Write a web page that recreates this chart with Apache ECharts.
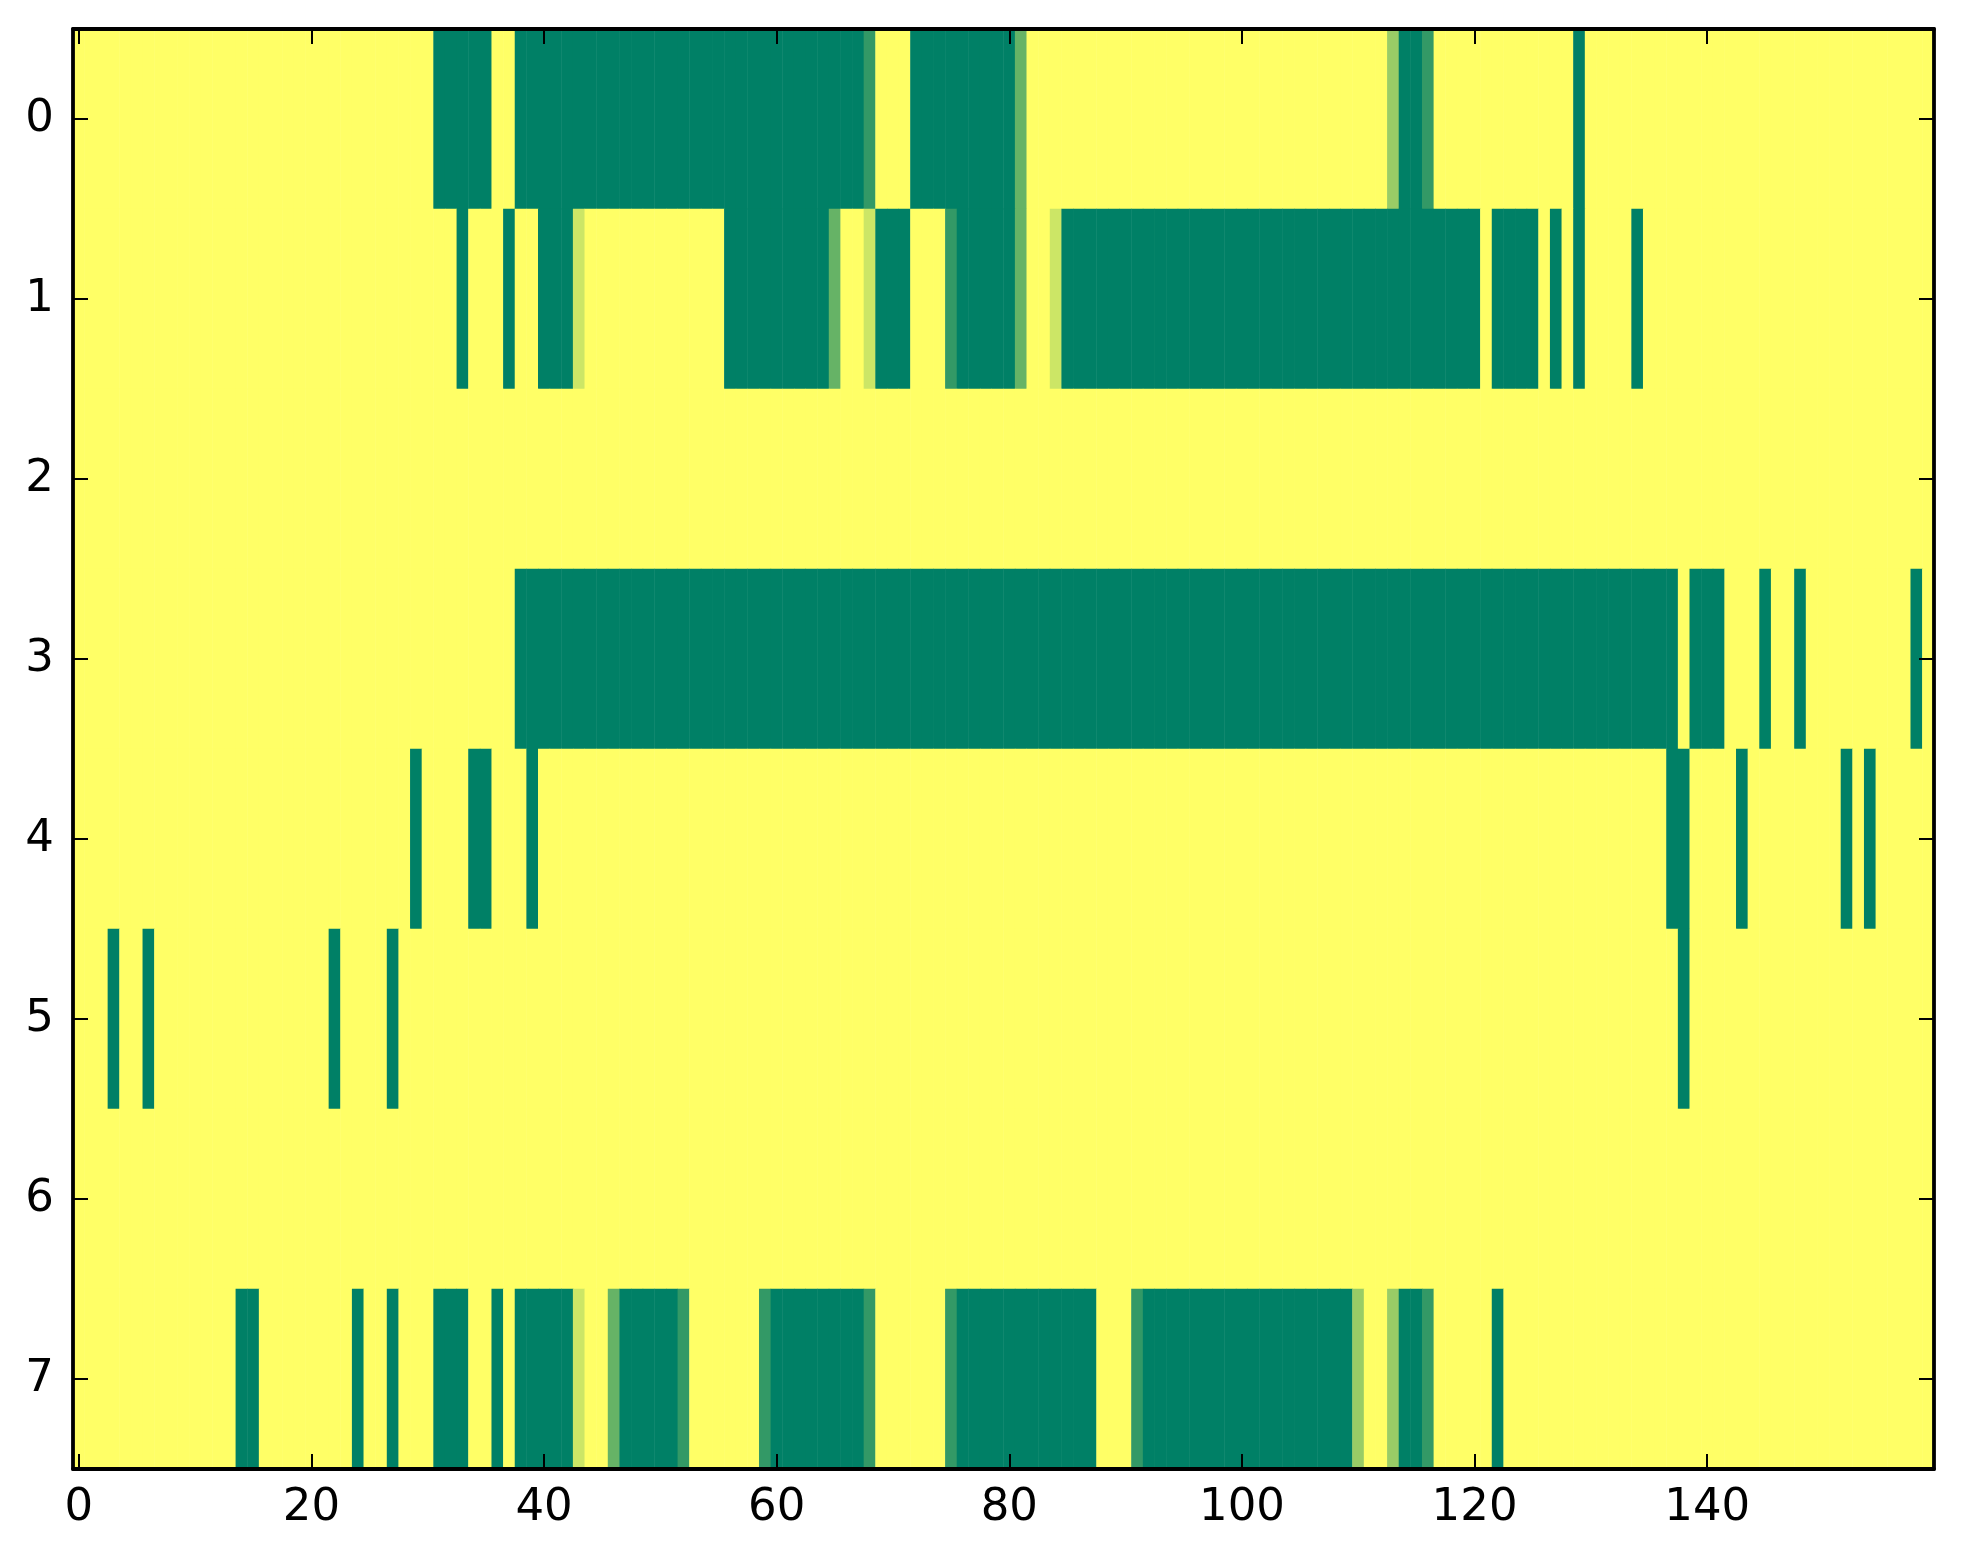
<!DOCTYPE html>
<html>
<head>
<meta charset="utf-8">
<script src="https://cdn.jsdelivr.net/npm/echarts@6/dist/echarts.min.js"></script>
<style>
html,body{margin:0;padding:0;background:#fff;}
#chart{width:1963px;height:1564px;}
</style>
</head>
<body>
<div id="chart"></div>
<script>
// Values: 0 = darkest green, 5 = yellow (summer colormap levels)
var row0 = [
5,5,5,5,5,5,5,5,5,5, 5,5,5,5,5,5,5,5,5,5, 5,5,5,5,5,5,5,5,5,5,
5,0,0,0,0,0,5,5,0,0, 0,0,0,0,0,0,0,0,0,0, 0,0,0,0,0,0,0,0,0,0,
0,0,0,0,0,0,0,0,1,5, 5,5,0,0,0,0,0,0,0,0, 0,2,5,5,5,5,5,5,5,5,
5,5,5,5,5,5,5,5,5,5, 5,5,5,5,5,5,5,5,5,5, 5,5,5,3,0,0,1,5,5,5,
5,5,5,5,5,5,5,5,5,0, 5,5,5,5,5,5,5,5,5,5, 5,5,5,5,5,5,5,5,5,5,
5,5,5,5,5,5,5,5,5,5
];
var row1 = [
5,5,5,5,5,5,5,5,5,5, 5,5,5,5,5,5,5,5,5,5, 5,5,5,5,5,5,5,5,5,5,
5,5,5,0,5,5,5,0,5,5, 0,0,0,4,5,5,5,5,5,5, 5,5,5,5,5,5,0,0,0,0,
0,0,0,0,0,2,5,5,4,0, 0,0,5,5,5,1,0,0,0,0, 0,2,5,5,4,0,0,0,0,0,
0,0,0,0,0,0,0,0,0,0, 0,0,0,0,0,0,0,0,0,0, 0,0,0,0,0,0,0,0,0,0,
0,5,0,0,0,0,5,0,5,0, 5,5,5,5,0,5,5,5,5,5, 5,5,5,5,5,5,5,5,5,5,
5,5,5,5,5,5,5,5,5,5
];
var row2 = [
5,5,5,5,5,5,5,5,5,5, 5,5,5,5,5,5,5,5,5,5, 5,5,5,5,5,5,5,5,5,5,
5,5,5,5,5,5,5,5,5,5, 5,5,5,5,5,5,5,5,5,5, 5,5,5,5,5,5,5,5,5,5,
5,5,5,5,5,5,5,5,5,5, 5,5,5,5,5,5,5,5,5,5, 5,5,5,5,5,5,5,5,5,5,
5,5,5,5,5,5,5,5,5,5, 5,5,5,5,5,5,5,5,5,5, 5,5,5,5,5,5,5,5,5,5,
5,5,5,5,5,5,5,5,5,5, 5,5,5,5,5,5,5,5,5,5, 5,5,5,5,5,5,5,5,5,5,
5,5,5,5,5,5,5,5,5,5
];
var row3 = [
5,5,5,5,5,5,5,5,5,5, 5,5,5,5,5,5,5,5,5,5, 5,5,5,5,5,5,5,5,5,5,
5,5,5,5,5,5,5,5,0,0, 0,0,0,0,0,0,0,0,0,0, 0,0,0,0,0,0,0,0,0,0,
0,0,0,0,0,0,0,0,0,0, 0,0,0,0,0,0,0,0,0,0, 0,0,0,0,0,0,0,0,0,0,
0,0,0,0,0,0,0,0,0,0, 0,0,0,0,0,0,0,0,0,0, 0,0,0,0,0,0,0,0,0,0,
0,0,0,0,0,0,0,0,0,0, 0,0,0,0,0,0,0,0,5,0, 0,0,5,5,5,0,5,5,0,5,
5,5,5,5,5,5,5,5,0,5
];
var row4 = [
5,5,5,5,5,5,5,5,5,5, 5,5,5,5,5,5,5,5,5,5, 5,5,5,5,5,5,5,5,5,0,
5,5,5,5,0,0,5,5,5,0, 5,5,5,5,5,5,5,5,5,5, 5,5,5,5,5,5,5,5,5,5,
5,5,5,5,5,5,5,5,5,5, 5,5,5,5,5,5,5,5,5,5, 5,5,5,5,5,5,5,5,5,5,
5,5,5,5,5,5,5,5,5,5, 5,5,5,5,5,5,5,5,5,5, 5,5,5,5,5,5,5,5,5,5,
5,5,5,5,5,5,5,5,5,5, 5,5,5,5,5,5,5,0,0,5, 5,5,5,0,5,5,5,5,5,5,
5,5,0,5,0,5,5,5,5,5
];
var row5 = [
5,5,5,0,5,5,0,5,5,5, 5,5,5,5,5,5,5,5,5,5, 5,5,0,5,5,5,5,0,5,5,
5,5,5,5,5,5,5,5,5,5, 5,5,5,5,5,5,5,5,5,5, 5,5,5,5,5,5,5,5,5,5,
5,5,5,5,5,5,5,5,5,5, 5,5,5,5,5,5,5,5,5,5, 5,5,5,5,5,5,5,5,5,5,
5,5,5,5,5,5,5,5,5,5, 5,5,5,5,5,5,5,5,5,5, 5,5,5,5,5,5,5,5,5,5,
5,5,5,5,5,5,5,5,5,5, 5,5,5,5,5,5,5,5,0,5, 5,5,5,5,5,5,5,5,5,5,
5,5,5,5,5,5,5,5,5,5
];
var row6 = [
5,5,5,5,5,5,5,5,5,5, 5,5,5,5,5,5,5,5,5,5, 5,5,5,5,5,5,5,5,5,5,
5,5,5,5,5,5,5,5,5,5, 5,5,5,5,5,5,5,5,5,5, 5,5,5,5,5,5,5,5,5,5,
5,5,5,5,5,5,5,5,5,5, 5,5,5,5,5,5,5,5,5,5, 5,5,5,5,5,5,5,5,5,5,
5,5,5,5,5,5,5,5,5,5, 5,5,5,5,5,5,5,5,5,5, 5,5,5,5,5,5,5,5,5,5,
5,5,5,5,5,5,5,5,5,5, 5,5,5,5,5,5,5,5,5,5, 5,5,5,5,5,5,5,5,5,5,
5,5,5,5,5,5,5,5,5,5
];
var row7 = [
5,5,5,5,5,5,5,5,5,5, 5,5,5,5,0,0,5,5,5,5, 5,5,5,5,0,5,5,0,5,5,
5,0,0,0,5,5,0,5,0,0, 0,0,0,4,5,5,2,0,0,0, 0,0,1,5,5,5,5,5,5,1,
0,0,0,0,0,0,0,0,1,5, 5,5,5,5,5,1,0,0,0,0, 0,0,0,0,0,0,0,0,5,5,
5,1,0,0,0,0,0,0,0,0, 0,0,0,0,0,0,0,0,0,0, 3,5,5,3,0,0,1,5,5,5,
5,5,0,5,5,5,5,5,5,5, 5,5,5,5,5,5,5,5,5,5, 5,5,5,5,5,5,5,5,5,5,
5,5,5,5,5,5,5,5,5,5
];
var rows = [row0, row1, row2, row3, row4, row5, row6, row7];
var rowLabels = ['0','1','2','3','4','5','6','7'];
var xTickValues = [0, 20, 40, 60, 80, 100, 120, 140];

var nCols = row0.length;
var colCats = [];
for (var i = 0; i < nCols; i++) colCats.push(String(i));

var data = [];
rows.forEach(function (r, y) {
  r.forEach(function (v, x) { data.push([x, y, v]); });
});

var FONT = 'DejaVu Sans';
var LBL = 45;
function isTick(i) { return xTickValues.indexOf(i) >= 0; }
var lineSt = {color: '#000', width: 3.8};
var tickSt = {color: '#000', width: 2};

var chart = echarts.init(document.getElementById('chart'), null, {renderer: 'canvas'});
chart.setOption({
  backgroundColor: '#ffffff',
  animation: false,
  grid: {left: 73, top: 29, width: 1861, height: 1440, containLabel: false},
  xAxis: [{
    type: 'category', data: colCats, position: 'bottom', z: 10,
    axisLine: {show: true, lineStyle: lineSt},
    axisTick: {show: true, inside: true, length: 15, alignWithLabel: true, interval: isTick, lineStyle: tickSt},
    axisLabel: {show: true, interval: isTick, margin: 17, color: '#000', fontSize: LBL, fontFamily: FONT},
    splitLine: {show: false}
  }, {
    type: 'category', data: colCats, position: 'top', z: 10,
    axisLine: {show: true, lineStyle: lineSt},
    axisTick: {show: true, inside: true, length: 15, alignWithLabel: true, interval: isTick, lineStyle: tickSt},
    axisLabel: {show: false},
    splitLine: {show: false}
  }],
  yAxis: [{
    type: 'category', data: rowLabels, inverse: true, position: 'left', z: 10,
    axisLine: {show: true, lineStyle: lineSt},
    axisTick: {show: true, inside: true, length: 15, alignWithLabel: true, lineStyle: tickSt},
    axisLabel: {show: true, margin: 19, color: '#000', fontSize: LBL, fontFamily: FONT},
    splitLine: {show: false}
  }, {
    type: 'category', data: rowLabels, inverse: true, position: 'right', z: 10,
    axisLine: {show: true, lineStyle: lineSt},
    axisTick: {show: true, inside: true, length: 15, alignWithLabel: true, lineStyle: tickSt},
    axisLabel: {show: false},
    splitLine: {show: false}
  }],
  visualMap: {
    type: 'continuous', show: false, min: 0, max: 5, dimension: 2,
    inRange: {color: ['#008066', '#ffff66']}
  },
  series: [{
    type: 'heatmap', xAxisIndex: 0, yAxisIndex: 0, data: data,
    itemStyle: {borderWidth: 0},
    emphasis: {disabled: true},
    progressive: 0
  }]
});
</script>
</body>
</html>
